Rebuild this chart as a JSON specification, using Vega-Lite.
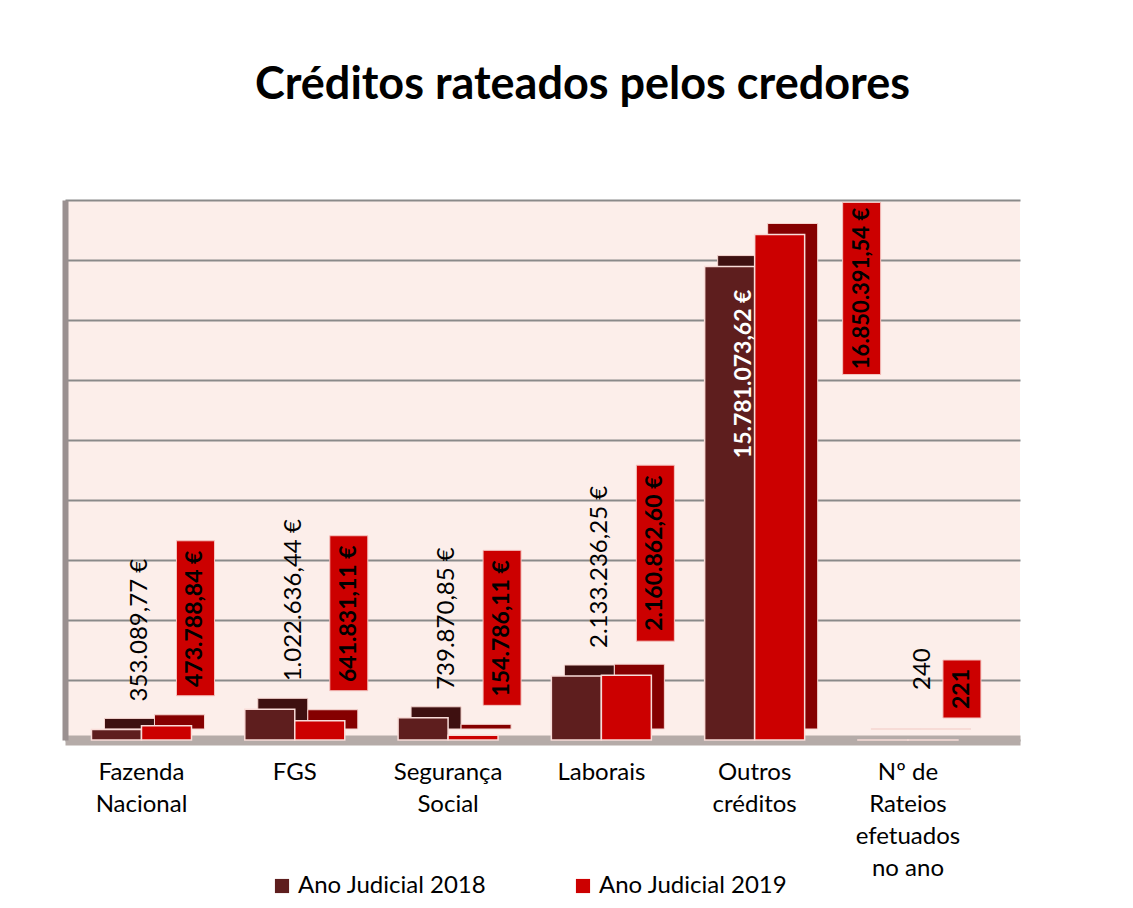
{
  "$schema": "https://vega.github.io/schema/vega-lite/v6.json",
  "width": 955,
  "height": 540,
  "autosize": "none",
  "padding": {"left": 65, "top": 200, "right": 113, "bottom": 168},
  "background": "white",
  "config": {"view": {"fill": "#FCEEEA", "stroke": null}, "font": "Lato"},
  "title": {"text": "Créditos rateados pelos credores", "fontSize": 45, "font": "Lato", "fontWeight": "bold", "color": "black", "anchor": "middle", "offset": 92, "dx": 40},
  "data": {"values": [
    {"categoria": "Fazenda Nacional", "ano": "Ano Judicial 2018", "valor": 353089.77, "rotulo": "353.089,77 €"},
    {"categoria": "Fazenda Nacional", "ano": "Ano Judicial 2019", "valor": 473788.84, "rotulo": "473.788,84 €"},
    {"categoria": "FGS", "ano": "Ano Judicial 2018", "valor": 1022636.44, "rotulo": "1.022.636,44 €"},
    {"categoria": "FGS", "ano": "Ano Judicial 2019", "valor": 641831.11, "rotulo": "641.831,11 €"},
    {"categoria": "Segurança Social", "ano": "Ano Judicial 2018", "valor": 739870.85, "rotulo": "739.870,85 €"},
    {"categoria": "Segurança Social", "ano": "Ano Judicial 2019", "valor": 154786.11, "rotulo": "154.786,11 €"},
    {"categoria": "Laborais", "ano": "Ano Judicial 2018", "valor": 2133236.25, "rotulo": "2.133.236,25 €"},
    {"categoria": "Laborais", "ano": "Ano Judicial 2019", "valor": 2160862.60, "rotulo": "2.160.862,60 €"},
    {"categoria": "Outros créditos", "ano": "Ano Judicial 2018", "valor": 15781073.62, "rotulo": "15.781.073,62 €"},
    {"categoria": "Outros créditos", "ano": "Ano Judicial 2019", "valor": 16850391.54, "rotulo": "16.850.391,54 €"},
    {"categoria": "Nº de Rateios efetuados no ano", "ano": "Ano Judicial 2018", "valor": 240, "rotulo": "240"},
    {"categoria": "Nº de Rateios efetuados no ano", "ano": "Ano Judicial 2019", "valor": 221, "rotulo": "221"}
  ]},
  "encoding": {
    "x": {"field": "categoria", "type": "nominal", "sort": null,
      "scale": {"paddingInner": 0.35, "paddingOuter": 0.29, "align": 0.3},
      "axis": {"title": null, "labelAngle": 0, "labelFontSize": 24, "labelColor": "black", "labelPadding": 20, "labelLineHeight": 32, "labelBaseline": "top", "ticks": false, "domainColor": "#B5ABA8", "domainWidth": 10, "labelLimit": 200,
        "labelExpr": "datum.label == 'Nº de Rateios efetuados no ano' ? ['Nº de','Rateios','efetuados','no ano'] : split(datum.label, ' ')"}},
    "y": {"field": "valor", "type": "quantitative", "scale": {"domain": [0, 18000000]},
      "axis": {"title": null, "labels": false, "ticks": false, "grid": true, "gridColor": "#8A8A8A", "gridWidth": 2, "domainColor": "#9A9090", "domainWidth": 6,
        "values": [0, 2000000, 4000000, 6000000, 8000000, 10000000, 12000000, 14000000, 16000000, 18000000]}}
  },
  "layer": [
    {"transform": [{"filter": "datum.ano == 'Ano Judicial 2018'"}],
     "mark": {"type": "bar", "width": 50, "xOffset": -12, "yOffset": -11, "y2Offset": -11, "fill": "#3E1010", "stroke": "#F5D5D0", "strokeWidth": 1}},
    {"transform": [{"filter": "datum.ano == 'Ano Judicial 2019'"}],
     "mark": {"type": "bar", "width": 50, "xOffset": 38, "yOffset": -11, "y2Offset": -11, "fill": "#850000", "stroke": "#F5D5D0", "strokeWidth": 1}},
    {"transform": [{"filter": "datum.ano == 'Ano Judicial 2018'"}],
     "mark": {"type": "bar", "width": 50, "xOffset": -25, "stroke": "#F8DCD8", "strokeWidth": 1.5},
     "encoding": {"color": {"field": "ano", "type": "nominal",
        "scale": {"domain": ["Ano Judicial 2018", "Ano Judicial 2019"], "range": ["#5E1E1E", "#CC0000"]},
        "legend": {"title": null, "orient": "none", "legendX": 205, "legendY": 674, "direction": "horizontal", "symbolType": "square", "symbolSize": 200, "symbolStrokeWidth": 0, "labelFontSize": 24, "labelColor": "black", "columnPadding": 84, "labelLimit": 300}}}},
    {"transform": [{"filter": "datum.ano == 'Ano Judicial 2019'"}],
     "mark": {"type": "bar", "width": 50, "xOffset": 25, "stroke": "#F8DCD8", "strokeWidth": 1.5},
     "encoding": {"color": {"field": "ano", "type": "nominal"}}},
    {"transform": [{"filter": "datum.ano == 'Ano Judicial 2018' && indexof(['Fazenda Nacional','FGS','Segurança Social','Laborais'], datum.categoria) >= 0"}],
     "mark": {"type": "text", "angle": 270, "align": "left", "baseline": "middle", "dx": 28, "dy": -1, "fontSize": 24, "color": "black"},
     "encoding": {"text": {"field": "rotulo"}}},
    {"transform": [{"filter": "datum.ano == 'Ano Judicial 2018' && datum.categoria == 'Outros créditos'"}],
     "mark": {"type": "text", "angle": 270, "align": "right", "baseline": "middle", "dx": -23, "dy": -11, "fontSize": 23, "fontWeight": "bold", "color": "white"},
     "encoding": {"text": {"field": "rotulo"}}},
    {"transform": [{"filter": "datum.ano == 'Ano Judicial 2018' && datum.categoria == 'Nº de Rateios efetuados no ano'"}],
     "mark": {"type": "text", "angle": 270, "align": "left", "baseline": "middle", "dx": 50, "dy": 15, "fontSize": 24, "color": "black"},
     "encoding": {"text": {"field": "rotulo"}}},
    {"transform": [{"filter": "datum.ano == 'Ano Judicial 2019' && indexof(['Fazenda Nacional','FGS','Segurança Social'], datum.categoria) >= 0"}],
     "mark": {"type": "bar", "width": 38, "xOffset": 54, "yOffset": -185, "y2Offset": -30, "color": "#CC0000", "stroke": "#F4C4C0", "strokeWidth": 1},
     "encoding": {"y2": {"field": "valor"}}},
    {"transform": [{"filter": "datum.ano == 'Ano Judicial 2019' && datum.categoria == 'Laborais'"}],
     "mark": {"type": "bar", "width": 38, "xOffset": 54, "yOffset": -210, "y2Offset": -34, "color": "#CC0000", "stroke": "#F4C4C0", "strokeWidth": 1},
     "encoding": {"y2": {"field": "valor"}}},
    {"transform": [{"filter": "datum.ano == 'Ano Judicial 2019' && datum.categoria == 'Outros créditos'"}],
     "mark": {"type": "bar", "width": 38, "xOffset": 107, "yOffset": -32, "y2Offset": 140, "color": "#CC0000", "stroke": "#F4C4C0", "strokeWidth": 1},
     "encoding": {"y2": {"field": "valor"}}},
    {"transform": [{"filter": "datum.ano == 'Ano Judicial 2019' && datum.categoria == 'Nº de Rateios efetuados no ano'"}],
     "mark": {"type": "bar", "width": 38, "xOffset": 54, "yOffset": -80, "y2Offset": -22, "color": "#CC0000", "stroke": "#F4C4C0", "strokeWidth": 1},
     "encoding": {"y2": {"field": "valor"}}},
    {"transform": [{"filter": "datum.ano == 'Ano Judicial 2019' && indexof(['Fazenda Nacional','FGS','Segurança Social'], datum.categoria) >= 0"}],
     "mark": {"type": "text", "angle": 270, "align": "center", "baseline": "middle", "dx": 107, "dy": 54, "fontSize": 23, "fontWeight": "bold", "color": "black"},
     "encoding": {"text": {"field": "rotulo"}}},
    {"transform": [{"filter": "datum.ano == 'Ano Judicial 2019' && datum.categoria == 'Laborais'"}],
     "mark": {"type": "text", "angle": 270, "align": "center", "baseline": "middle", "dx": 122, "dy": 54, "fontSize": 23, "fontWeight": "bold", "color": "black"},
     "encoding": {"text": {"field": "rotulo"}}},
    {"transform": [{"filter": "datum.ano == 'Ano Judicial 2019' && datum.categoria == 'Outros créditos'"}],
     "mark": {"type": "text", "angle": 270, "align": "center", "baseline": "middle", "dx": -54, "dy": 107, "fontSize": 22, "fontWeight": "bold", "color": "black"},
     "encoding": {"text": {"field": "rotulo"}}},
    {"transform": [{"filter": "datum.ano == 'Ano Judicial 2019' && datum.categoria == 'Nº de Rateios efetuados no ano'"}],
     "mark": {"type": "text", "angle": 270, "align": "center", "baseline": "middle", "dx": 51, "dy": 54, "fontSize": 23, "fontWeight": "bold", "color": "black"},
     "encoding": {"text": {"field": "rotulo"}}}
  ]
}
